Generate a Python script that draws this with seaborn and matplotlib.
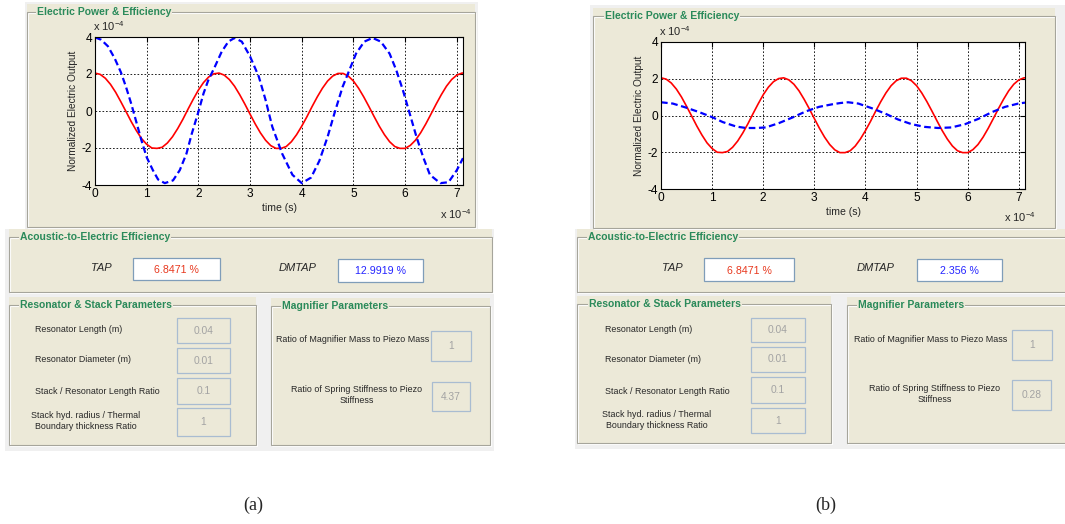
import numpy as np
import pandas as pd
import matplotlib
matplotlib.use("Agg")
import matplotlib.pyplot as plt
import seaborn as sns
from matplotlib.patches import Rectangle

# ---------------- data (axis units x 1e-4) ----------------
time_red = [0.0, 0.1, 0.2, 0.3, 0.4, 0.5, 0.6, 0.7, 0.8, 0.9,
            1.0, 1.1, 1.2, 1.3, 1.4, 1.5, 1.6, 1.7, 1.8, 1.9,
            2.0, 2.1, 2.2, 2.3, 2.4, 2.5, 2.6, 2.7, 2.8, 2.9,
            3.0, 3.1, 3.2, 3.3, 3.4, 3.5, 3.6, 3.7, 3.8, 3.9,
            4.0, 4.1, 4.2, 4.3, 4.4, 4.5, 4.6, 4.7, 4.8, 4.9,
            5.0, 5.1, 5.2, 5.3, 5.4, 5.5, 5.6, 5.7, 5.8, 5.9,
            6.0, 6.1, 6.2, 6.3, 6.4, 6.5, 6.6, 6.7, 6.8, 6.9,
            7.0, 7.1, 7.12]
tap_output = [2.05, 1.98, 1.77, 1.44, 1.01, 0.50, -0.03, -0.57, -1.06, -1.49,
              -1.80, -2.00, -2.02, -1.96, -1.73, -1.39, -0.95, -0.45, 0.10, 0.63,
              1.13, 1.54, 1.84, 2.01, 2.05, 1.94, 1.70, 1.34, 0.88, 0.37,
              -0.17, -0.70, -1.18, -1.58, -1.87, -2.02, -2.02, -1.92, -1.66, -1.28,
              -0.82, -0.31, 0.24, 0.76, 1.23, 1.62, 1.89, 2.03, 2.03, 1.89,
              1.62, 1.23, 0.76, 0.24, -0.30, -0.82, -1.28, -1.66, -1.92, -2.02,
              -2.02, -1.86, -1.58, -1.18, -0.70, -0.17, 0.37, 0.88, 1.34, 1.70,
              1.94, 2.05, 2.05]

time_blue_a = [0, 0.12, 0.25, 0.38, 0.5, 0.6, 0.7, 0.8, 0.9, 1.0, 1.12, 1.22, 1.35,
               1.51, 1.64, 1.77, 1.87, 2.0, 2.1, 2.19, 2.32, 2.45, 2.58, 2.7, 2.84,
               3.0, 3.17, 3.3, 3.43, 3.62, 3.82, 4.0, 4.18, 4.34, 4.5, 4.63, 4.79,
               4.92, 5.05, 5.21, 5.37, 5.53, 5.7, 5.83, 5.96, 6.09, 6.22, 6.35,
               6.48, 6.68, 6.84, 7.0, 7.12]
dmtap_output_a = [3.98, 3.85, 3.5, 2.85, 2.1, 1.3, 0.4, -0.6, -1.6, -2.5, -3.2, -3.7, -3.9,
                  -3.75, -3.2, -2.3, -1.25, -0.05, 0.95, 1.65, 2.4, 3.2, 3.75, 3.95, 3.75,
                  2.95, 1.85, 0.6, -0.85, -2.3, -3.45, -3.9, -3.6, -2.7, -1.4, -0.15, 1.3,
                  2.2, 3.1, 3.75, 3.95, 3.75, 3.1, 2.2, 1.1, -0.15, -1.4, -2.5,
                  -3.45, -3.9, -3.85, -3.2, -2.55]

time_blue_b = [0, 0.23, 0.49, 0.75, 1.0, 1.21, 1.47, 1.66, 1.86, 2.05, 2.31, 2.57, 2.83,
               3.09, 3.35, 3.51, 3.66, 3.86, 4.12, 4.38, 4.64, 4.9, 5.16, 5.42, 5.68,
               5.95, 6.21, 6.47, 6.73, 6.99, 7.12]
dmtap_output_b = [0.72, 0.65, 0.43, 0.18, -0.09, -0.36, -0.6, -0.68, -0.68, -0.65, -0.41, -0.11, 0.22,
                  0.47, 0.61, 0.68, 0.72, 0.65, 0.4, 0.11, -0.22, -0.47, -0.62, -0.68, -0.65,
                  -0.47, -0.18, 0.18, 0.47, 0.65, 0.7]

x_ticks = [0, 1, 2, 3, 4, 5, 6, 7]
y_ticks = [-4, -2, 0, 2, 4]

tap_value = "6.8471 %"
dmtap_values = ["12.9919 %", "2.356 %"]
resonator_labels = ["Resonator Length (m)", "Resonator Diameter (m)",
                    "Stack / Resonator Length Ratio",
                    "Stack hyd. radius / Thermal\nBoundary thickness Ratio"]
resonator_values = ["0.04", "0.01", "0.1", "1"]
magnifier_labels = ["Ratio of Magnifier Mass to Piezo Mass",
                    "Ratio of Spring Stiffness to Piezo\nStiffness"]
magnifier_values = [["1", "4.37"], ["1", "0.28"]]
panel_letters = ["(a)", "(b)"]

# ---------------- styling ----------------
W, H = 1065, 524
BEIGE = "#ECE9D8"
GRAYBG = "#F0F0F0"
GREEN = "#2A8A5A"
FRAME = "#A6A59B"
EDIT = "#7F9DB9"
DIS_EDIT = "#A9BCD1"
DIS_TXT = "#A3A3A3"
SANS = ["Liberation Sans", "DejaVu Sans"]
LAB = 6.4

sns.set_style("white")
plt.rcParams["font.family"] = SANS

fig = plt.figure(figsize=(W / 100, H / 100), dpi=100)
fig.patch.set_facecolor("white")


def R(x0, y0, x1, y1, fc="none", ec="none", lw=1.0, z=-5):
    fig.add_artist(Rectangle((x0 / W, 1 - y1 / H), (x1 - x0) / W, (y1 - y0) / H,
                             transform=fig.transFigure, facecolor=fc, edgecolor=ec,
                             linewidth=lw, zorder=z))


def T(x, y, s, **kw):
    kw.setdefault("va", "center")
    kw.setdefault("zorder", 5)
    return fig.text(x / W, 1 - y / H, s, **kw)


def group(x0, y0, x1, y1, title, tx):
    R(x0, y0 - 8, x1, y1, fc=BEIGE, z=-6)
    R(x0 + 1, y0 + 1, x1 + 1, y1 + 1, ec="white", lw=0.8, z=-4)
    R(x0, y0, x1, y1, ec=FRAME, lw=0.8, z=-3)
    T(tx, y0, title, color=GREEN, fontsize=7.5, fontweight="bold", ha="left",
      bbox=dict(facecolor=BEIGE, edgecolor="none", pad=0.6))


def box(x0, y0, x1, y1, text, color, enabled=True):
    if enabled:
        R(x0, y0, x1, y1, fc="white", ec=EDIT, lw=0.9, z=-2)
        T((x0 + x1) / 2, (y0 + y1) / 2 + 1, text, color=color, fontsize=7.7, ha="center")
    else:
        R(x0, y0, x1, y1, fc=BEIGE, ec=DIS_EDIT, lw=0.9, z=-2)
        T((x0 + x1) / 2, (y0 + y1) / 2, text, color=DIS_TXT, fontsize=7.4, ha="center")


def plot_panel(ax_rect, t_blue, v_blue):
    x0, y0, x1, y1 = ax_rect
    ax = fig.add_axes([x0 / W, 1 - y1 / H, (x1 - x0) / W, (y1 - y0) / H])
    ax.set_zorder(2)
    ax.set_facecolor("white")
    sns.lineplot(x=time_red, y=tap_output, ax=ax, color="#FF0000", linewidth=1.2,
                 estimator=None, sort=False)
    sns.lineplot(x=t_blue, y=v_blue, ax=ax, color="#0000FF", linewidth=1.6,
                 estimator=None, sort=False)
    ax.lines[-1].set_linestyle((0, (3.0, 1.6)))
    ax.set_xlim(0, 7.12)
    ax.set_ylim(-4, 4)
    ax.set_xticks(x_ticks)
    ax.set_yticks(y_ticks)
    ax.set_xticklabels([str(v) for v in x_ticks])
    ax.set_yticklabels([str(v) for v in y_ticks])
    ax.tick_params(direction="in", length=3.5, width=0.8, top=True, right=True,
                   labelsize=8.6, pad=2, colors="black")
    ax.grid(True, color="black", linestyle=(0, (2, 2.2)), linewidth=0.6)
    for s in ax.spines.values():
        s.set_visible(True)
        s.set_color("black")
        s.set_linewidth(0.8)
    ax.set_xlabel("time (s)", fontsize=7.6, labelpad=2)
    ax.set_ylabel("Normalized Electric Output", fontsize=7.3, labelpad=3)
    return ax


exp_txt = r"x 10$^{\mathregular{-4}}$"

# ======================= panel (a) =======================
R(25, 2, 478, 230, fc=GRAYBG, z=-8)
group(27, 12, 475, 227, "Electric Power & Efficiency", 37)
plot_panel((95, 37, 463, 185), time_blue_a, dmtap_output_a)
T(93, 26, exp_txt, fontsize=8, ha="left")
T(440, 214, exp_txt, fontsize=8, ha="left")

R(5, 229, 494, 451, fc=GRAYBG, z=-8)
group(9, 237, 492, 292, "Acoustic-to-Electric Efficiency", 20)
T(101, 268, "TAP", fontsize=8, style="italic", ha="center")
box(133, 258, 220, 280, tap_value, "#E8391F")
T(298, 268, "DMTAP", fontsize=8, style="italic", ha="center")
box(338, 259, 423, 282, dmtap_values[0], "#2424FF")

group(9, 305, 256, 445, "Resonator & Stack Parameters", 20)
res_y = [(318, 343), (348, 373), (378, 404), (408, 436)]
lab_y = [330, 360, 392, 421]
for i in range(4):
    if "\n" in resonator_labels[i]:
        T(86, lab_y[i], resonator_labels[i], fontsize=LAB, ha="center", multialignment="center",
          linespacing=1.3)
    else:
        T(35, lab_y[i], resonator_labels[i], fontsize=LAB, ha="left")
    box(177, res_y[i][0], 230, res_y[i][1], resonator_values[i], "k", enabled=False)

group(271, 306, 490, 445, "Magnifier Parameters", 282)
T(353, 339, magnifier_labels[0], fontsize=LAB, ha="center")
box(431, 331, 471, 361, magnifier_values[0][0], "k", enabled=False)
T(357, 395, magnifier_labels[1], fontsize=LAB, ha="center", multialignment="center",
  linespacing=1.3)
box(432, 382, 470, 411, magnifier_values[0][1], "k", enabled=False)

# ======================= panel (b) =======================
R(590, 5, 1065, 231, fc=GRAYBG, z=-8)
group(593, 16, 1055, 228, "Electric Power & Efficiency", 605)
plot_panel((661, 42, 1025, 189), time_blue_b, dmtap_output_b)
T(659, 31, exp_txt, fontsize=8, ha="left")
T(1004, 217, exp_txt, fontsize=8, ha="left")

R(575, 229, 1065, 449, fc=GRAYBG, z=-8)
group(577, 237, 1068, 292, "Acoustic-to-Electric Efficiency", 588)
T(672, 268, "TAP", fontsize=8, style="italic", ha="center")
box(704, 258, 794, 281, tap_value, "#E8391F")
T(876, 268, "DMTAP", fontsize=8, style="italic", ha="center")
box(917, 259, 1002, 281, dmtap_values[1], "#2424FF")

group(577, 304, 831, 443, "Resonator & Stack Parameters", 589)
res_yb = [(318, 342), (347, 372), (377, 403), (408, 433)]
lab_yb = [329, 359, 391, 420]
for i in range(4):
    if "\n" in resonator_labels[i]:
        T(657, lab_yb[i], resonator_labels[i], fontsize=LAB, ha="center", multialignment="center",
          linespacing=1.3)
    else:
        T(605, lab_yb[i], resonator_labels[i], fontsize=LAB, ha="left")
    box(751, res_yb[i][0], 805, res_yb[i][1], resonator_values[i], "k", enabled=False)

group(847, 305, 1068, 443, "Magnifier Parameters", 858)
T(931, 339, magnifier_labels[0], fontsize=LAB, ha="center")
box(1012, 330, 1052, 360, magnifier_values[1][0], "k", enabled=False)
T(935, 394, magnifier_labels[1], fontsize=LAB, ha="center", multialignment="center",
  linespacing=1.3)
box(1012, 380, 1051, 410, magnifier_values[1][1], "k", enabled=False)

# panel letters
T(253, 505, panel_letters[0], fontsize=13, ha="center", family=["Liberation Serif", "DejaVu Serif"])
T(826, 505, panel_letters[1], fontsize=13, ha="center", family=["Liberation Serif", "DejaVu Serif"])

fig.savefig("out.png", dpi=100, facecolor="white")
